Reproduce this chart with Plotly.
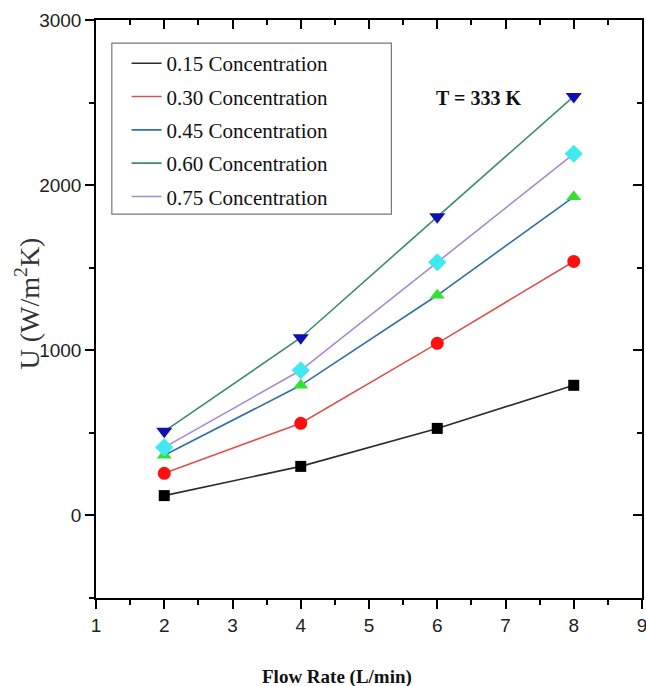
import plotly.graph_objects as go

flow_rate = [2, 4, 6, 8]
u_015 = [120, 297, 527, 788]
u_030 = [255, 558, 1042, 1538]
u_045 = [364, 788, 1333, 1929]
u_060 = [509, 1076, 1808, 2537]
u_075 = [412, 879, 1533, 2190]

series_names = ["0.15 Concentration", "0.30 Concentration", "0.45 Concentration",
                "0.60 Concentration", "0.75 Concentration"]
series_values = [u_015, u_030, u_045, u_060, u_075]
line_colors = ["#2b2b2b", "#d9534f", "#2f6fa8", "#3c8c6c", "#a98ac8"]
marker_colors = ["#000000", "#ff1010", "#33e033", "#1010b0", "#40e8f0"]
marker_symbols = ["square", "circle", "triangle-up", "triangle-down", "diamond"]
marker_sizes = [11, 13, 13, 14, 14]

x_ticks = [1, 2, 3, 4, 5, 6, 7, 8, 9]
y_ticks = [0, 1000, 2000, 3000]

fig = go.Figure()
for name, vals, lc in zip(series_names, series_values, line_colors):
    fig.add_trace(go.Scatter(x=flow_rate, y=vals, mode="lines", name=name,
                             line=dict(color=lc, width=1.6), legendgroup=name))
for name, vals, mc, ms, sz in zip(series_names, series_values, marker_colors,
                                   marker_symbols, marker_sizes):
    fig.add_trace(go.Scatter(x=flow_rate, y=vals, mode="markers", showlegend=False,
                             marker=dict(color=mc, symbol=ms, size=sz, line=dict(width=0)),
                             xaxis="x2", yaxis="y2"))

tickfont = dict(family="Liberation Sans, Arial", size=19, color="#222")
common_x = dict(range=[1, 9], tickvals=x_ticks, showgrid=False, zeroline=False,
                linecolor="black", linewidth=1.5, tickcolor="black", tickwidth=1.5,
                ticklen=9, automargin=False,
                minor=dict(dtick=0.5, ticklen=5, tickcolor="black", tickwidth=1.5))
common_y = dict(range=[-500, 3000], tickvals=y_ticks, showgrid=False, zeroline=False,
                linecolor="black", linewidth=1.5, tickcolor="black", tickwidth=1.5,
                ticklen=9, automargin=False,
                minor=dict(dtick=500, ticklen=5, tickcolor="black", tickwidth=1.5))

fig.update_layout(
    width=646, height=686,
    margin=dict(l=96, r=4, t=20, b=88, autoexpand=False),
    paper_bgcolor="white", plot_bgcolor="white",
    xaxis=dict(**common_x, ticks="outside", tickfont=tickfont, ticklabeloverflow="allow",
               minor_ticks="outside", showline=True),
    yaxis=dict(**common_y, ticks="outside", tickfont=tickfont,
               minor_ticks="outside", showline=True),
    xaxis2=dict(**common_x, overlaying="x", side="top", anchor="y2", ticks="inside",
                minor_ticks="inside", showticklabels=False, showline=True),
    yaxis2=dict(**common_y, overlaying="y", side="right", anchor="x2", ticks="inside",
                minor_ticks="inside", showticklabels=False, showline=True),
    legend=dict(x=0.056, y=0.96, xanchor="left", yanchor="top",
                font=dict(family="Liberation Serif, Times New Roman", size=21, color="#111"),
                bgcolor="rgba(0,0,0,0)", borderwidth=0, tracegroupgap=3),
    showlegend=True,
)

fig.add_shape(type="rect", xref="paper", yref="paper", x0=0.029, x1=0.541,
              y0=0.664, y1=0.960, line=dict(color="#777", width=1.2), fillcolor="rgba(0,0,0,0)")

fig.add_annotation(text="<b>T = 333 K</b>", xref="paper", yref="paper", x=0.70, y=0.865,
                   xanchor="center", yanchor="middle",
                   showarrow=False, font=dict(family="Liberation Serif, Times New Roman", size=20, color="#111"))
fig.add_annotation(text="U (W/m<sup>2</sup>K)", xref="paper", yref="paper", x=-0.126, y=0.51,
                   textangle=-90, showarrow=False, xanchor="center", yanchor="middle",
                   font=dict(family="Liberation Serif, Times New Roman", size=28, color="#333"))
fig.add_annotation(text="<b>Flow Rate (L/min)</b>", xref="paper", yref="paper", x=0.442, y=-0.137,
                   showarrow=False, xanchor="center", yanchor="middle",
                   font=dict(family="Liberation Serif, Times New Roman", size=19, color="#111"))

fig.write_html("out.html", config={"displayModeBar": False},
               post_script="document.body.style.margin='0';document.body.style.overflow='hidden';")
